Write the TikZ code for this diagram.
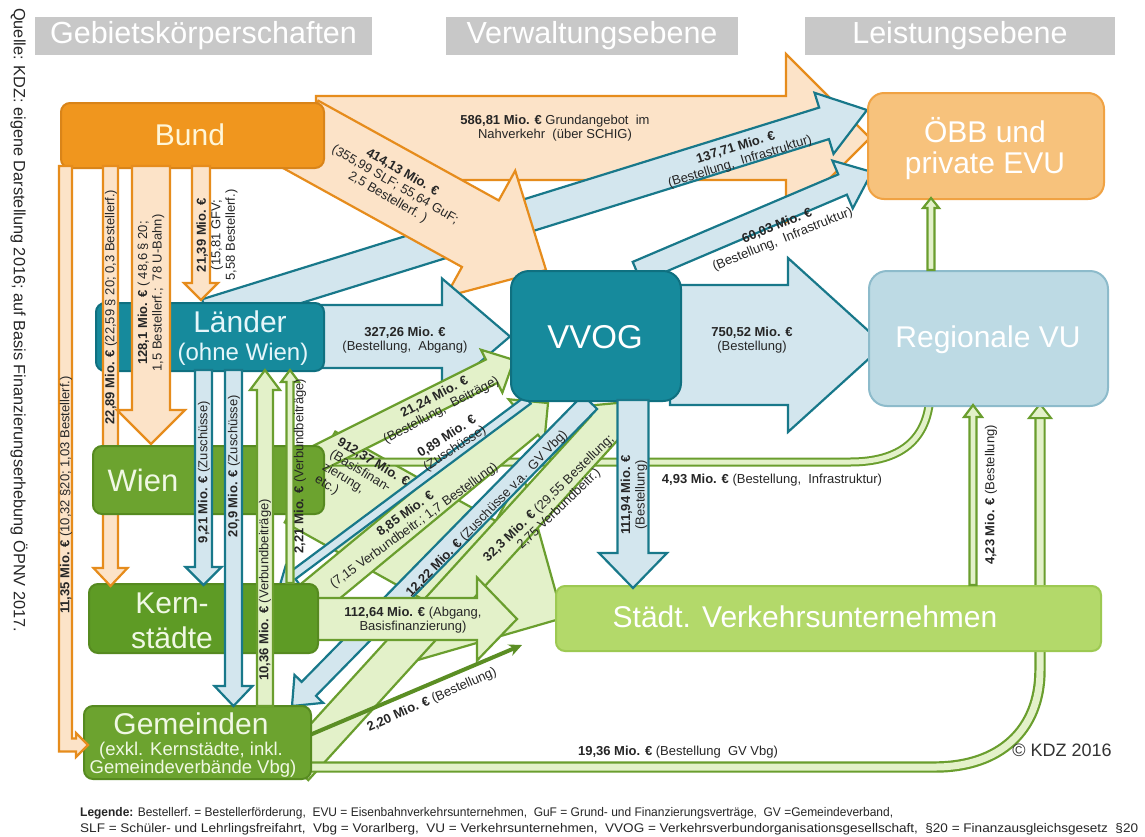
\documentclass[tikz,border=0pt]{standalone}
\usepackage{fontspec}
\setmainfont{Liberation Sans}
\usetikzlibrary{calc,arrows.meta}
\definecolor{hdrgray}{HTML}{C8C8C8}
\definecolor{orbox}{HTML}{F0961E}
\definecolor{orboxl}{HTML}{D98419}
\definecolor{orfill}{HTML}{FCE3C8}
\definecolor{orline}{HTML}{E68C1C}
\definecolor{tealbox}{HTML}{168A9C}
\definecolor{tealboxl}{HTML}{0F7080}
\definecolor{blfill}{HTML}{D3E6EE}
\definecolor{blline}{HTML}{18788A}
\definecolor{regfill}{HTML}{BDDAE4}
\definecolor{regline}{HTML}{8DBBCB}
\definecolor{oebbfill}{HTML}{F7C27C}
\definecolor{oebbline}{HTML}{F0A243}
\definecolor{grbox}{HTML}{6CA32F}
\definecolor{grboxd}{HTML}{5E9B25}
\definecolor{grboxl}{HTML}{568A20}
\definecolor{stfill}{HTML}{B3D96A}
\definecolor{stline}{HTML}{9DC952}
\definecolor{grfill}{HTML}{E3F1C9}
\definecolor{grline}{HTML}{6A9E2E}
\definecolor{gdark}{HTML}{5B8E24}
\definecolor{lbltext}{HTML}{262626}
\definecolor{cream}{HTML}{FFF6D8}
\definecolor{paleteal}{HTML}{E6F6FA}
\definecolor{palegreen}{HTML}{F0F8E4}
\newcommand\lf{\fontsize{13}{14.5}\selectfont}
\newsavebox\legone
\newsavebox\legtwo
% block arrow: style, tail, tip, shaft half width, head half width, head length
\newcommand\blockarrow[6]{%
  \coordinate (baT) at (#2);
  \coordinate (baP) at (#3);
  \coordinate (baH) at ($(baP)!#6pt!(baT)$);
  \draw[#1] ($(baT)!#4pt!90:(baP)$) -- ($(baH)!#4pt!90:(baP)$) -- ($(baH)!#5pt!90:(baP)$)
    -- (baP) -- ($(baH)!#5pt!-90:(baP)$) -- ($(baH)!#4pt!-90:(baP)$)
    -- ($(baT)!#4pt!-90:(baP)$) -- cycle;}
\tikzset{
  orarrow/.style={fill=orfill, draw=orline, line width=2.2pt},
  blarrow/.style={fill=blfill, draw=blline, line width=2.2pt},
  grarrow/.style={fill=grfill, draw=grline, line width=2.2pt},
  dbl/.style={draw=grline, line width=2pt, double=grfill, double distance=5pt},
  dblw/.style={draw=grline, line width=2.2pt, double=grfill, double distance=7pt},
  bx/.style={rounded corners=9pt, line width=2pt, inner sep=0pt, anchor=north west},
  hdr/.style={fill=hdrgray, text=white, font=\fontsize{30.5}{32}\selectfont, inner sep=0pt},
  lbl/.style={font=\lf, text=lbltext, align=center, inner sep=0pt},
  btxt/.style={inner sep=0pt, font=\fontsize{30}{32}\selectfont},
}
\begin{document}
\begin{tikzpicture}[x=1pt,y=-1pt]
\useasboundingbox (0,0) rectangle (1145,836);
\fill[white] (0,0) rectangle (1145,836);
% headers
\node[hdr, minimum width=337pt, minimum height=38pt] (h1) at (203.5,36) {Gebietskörperschaften};
\node[hdr, minimum width=292pt, minimum height=38pt] (h2) at (592,36) {Verwaltungsebene};
\node[hdr, minimum width=310pt, minimum height=38pt] (h3) at (960,36) {Leistungsebene};
\node[anchor=west, rotate=-90, inner sep=0pt, font=\fontsize{16.3}{18}\selectfont, text=black!85] (quelle) at (19,8) {Quelle: KDZ: eigene Darstellung 2016; auf Basis Finanzierungserhebung ÖPNV 2017.};
% big flows
\blockarrow{orarrow}{316,138}{870,138}{42}{84}{84}
\blockarrow{blarrow}{207,315}{867,110}{16.5}{32}{45}
\blockarrow{blarrow}{637,272}{872,172}{11}{26}{32}
\blockarrow{orarrow}{300,134}{546,270}{38}{72}{75}
\blockarrow{blarrow}{670,345}{884,345}{60}{87}{96}
\blockarrow{blarrow}{315,336.5}{510,336.5}{31.5}{58}{68}
\blockarrow{grarrow}{310,477}{563,618}{52}{107}{106}
\draw[dbl] (318,462) -- (850,462) .. controls (900,462) and (928,440) .. (930,395);
\blockarrow{grarrow}{310,462}{514,360}{13}{24}{25}
\blockarrow{grarrow}{300,608}{548,403}{18}{28}{28}
\blockarrow{grarrow}{295,768}{628,402}{18}{32}{35}
\blockarrow{blarrow}{528,400}{280,585}{4.5}{12}{16}
\blockarrow{blarrow}{590,402}{292,706}{10}{20}{24}
\blockarrow{grarrow}{312,619}{517,619}{21}{41.5}{40}
\draw[line width=4pt, draw=gdark, -{Stealth[length=13pt,width=12pt]}] (305,737) -- (522,645);
\draw[dblw] (305,767) -- (935,767) .. controls (1000,767) and (1040,730) .. (1040,670) -- (1040,416);
\filldraw[fill=grfill, draw=grline, line width=2pt] (1029,418) -- (1040,404) -- (1051,418) -- cycle;
% boxes
\node[bx, fill=orbox, draw=orboxl, minimum width=263pt, minimum height=65pt] (bund) at (60,102) {};
\node[bx, fill=tealbox, draw=tealboxl, minimum width=228pt, minimum height=68pt] (laender) at (95,302) {};
\node[bx, fill=grboxd, draw=grboxl, minimum width=229pt, minimum height=69pt] (kern) at (88,583) {};
\node[bx, fill=grbox, draw=grboxl, minimum width=227pt, minimum height=73pt] (gem) at (83,705) {};
\node[bx, rounded corners=18pt, fill=tealbox, draw=tealboxl, minimum width=170pt, minimum height=130pt] (vvog) at (510,270) {};
\node[bx, rounded corners=16pt, fill=oebbfill, draw=oebbline, minimum width=236pt, minimum height=106pt] (oebb) at (867,92) {};
\node[bx, rounded corners=18pt, fill=regfill, draw=regline, minimum width=239pt, minimum height=135pt] (reg) at (868,270) {};
\node[bx, fill=stfill, draw=stline, minimum width=545pt, minimum height=65pt] (staedt) at (555,585) {};
% flows from Bund
\draw[orarrow] (59,166) -- (59,751.5) -- (76,751.5) -- (76,757) -- (88,745) -- (76,733) -- (76,738.5) -- (72,738.5) -- (72,166) -- cycle;
\blockarrow{orarrow}{110.5,166}{110.5,586}{7.5}{17}{18}
\blockarrow{orarrow}{151,166}{151,444}{19}{34}{34}
\blockarrow{orarrow}{201,166}{201,300}{9}{17}{17}
\node[bx, fill=grbox, draw=grboxl, minimum width=231pt, minimum height=68pt] (wien) at (92,445) {};
% vertical flows
\blockarrow{blarrow}{203.5,370}{203.5,585}{8.5}{18}{18}
\blockarrow{blarrow}{233.5,370}{233.5,706}{8.5}{19}{20}
\blockarrow{grarrow}{265,706}{265,370}{8}{15}{20}
\blockarrow{grarrow}{290,583}{290,370}{3.5}{9}{12}
\blockarrow{blarrow}{633,400}{633,588}{15.5}{34}{35}
\blockarrow{grarrow}{973,585}{973,405}{3.5}{9}{12}
\blockarrow{grarrow}{931,270}{931,198}{3.5}{8}{10}
% box texts
\node[btxt, text=cream] (tbund) at (190,135) {Bund};
\node[btxt, text=paleteal] (tlae) at (240,322) {Länder};
\node[inner sep=0pt, font=\fontsize{24}{26}\selectfont, text=paleteal] (tlae2) at (243,354) {(ohne Wien)};
\node[btxt, text=palegreen, font=\fontsize{31}{33}\selectfont] (twien) at (143,480) {Wien};
\node[btxt, text=palegreen] (tkern1) at (172,603) {Kern-};
\node[btxt, text=palegreen] (tkern2) at (172,638) {städte};
\node[btxt, text=palegreen] (tgem1) at (191,724) {Gemeinden};
\node[inner sep=0pt, font=\fontsize{18.5}{20}\selectfont, text=palegreen] (tgem2) at (191,751) {(exkl. Kernstädte, inkl.};
\node[inner sep=0pt, font=\fontsize{18.5}{20}\selectfont, text=palegreen] (tgem3) at (193,769) {Gemeindeverbände Vbg)};
\node[btxt, text=white, font=\fontsize{33}{35}\selectfont] (tvvog) at (595,337) {VVOG};
\node[btxt, text=white] (toebb1) at (985,130) {ÖBB und};
\node[btxt, text=white] (toebb2) at (985,166) {private EVU};
\node[btxt, text=white] (treg) at (988,340) {Regionale VU};
\node[btxt, text=white] (tst) at (805,617) {Städt. Verkehrsunternehmen};
% flow labels
\node[lbl] (t586) at (555,128) {\textbf{586,81 Mio. €} Grundangebot\ \ im\\Nahverkehr\ \ (über SCHIG)};
\node[lbl, rotate=-30] (t414) at (395,185) {\textbf{414,13 Mio. €}\\(355,99 SLF; 55,64 GuF;\\2,5 Bestellerf. )};
\node[lbl, rotate=17] (t137) at (738,155) {\textbf{137,71 Mio. €}\\(Bestellung,\ \ Infrastruktur)};
\node[lbl, rotate=22] (t6003) at (780,233) {\textbf{60,03 Mio. €}\\(Bestellung,\ \ Infrastruktur)};
\node[lbl] (t327) at (405,340) {\textbf{327,26 Mio. €}\\(Bestellung,\ \ Abgang)};
\node[lbl] (t750) at (752,340) {\textbf{750,52 Mio. €}\\(Bestellung)};
\node[lbl, rotate=90] (t111) at (634,495) {\textbf{111,94 Mio. €}\\(Bestellung)};
\node[lbl, rotate=28] (t2124) at (438,404) {\textbf{21,24 Mio. €}\\(Bestellung,\ \ Beiträge)};
\node[lbl, rotate=33] (t089) at (451,443) {\textbf{0,89 Mio. €}\\(Zuschüsse)};
\node[lbl, rotate=-31, align=left] (t912) at (362,481) {\textbf{912,37 Mio. €}\\(Basisfinan-\\zierung,\\etc.)};
\node[lbl, rotate=36] (t885) at (410,520) {\textbf{8,85 Mio. €}\\(7,15 Verbundbeitr.; 1,7 Bestellung)};
\node[lbl, rotate=46] (t1222) at (487,514) {\textbf{12,22 Mio. €} (Zuschüsse v.a.\ \ GV Vbg)};
\node[lbl, rotate=44] (t323) at (554,504) {\textbf{32,3 Mio. €} (29,55 Bestellung;\\2,75 Verbundbeitr.)};
\node[lbl] (t11264) at (413,620) {\textbf{112,64 Mio. €} (Abgang,\\Basisfinanzierung)};
\node[lbl, rotate=24] (t220) at (432,700) {\textbf{2,20 Mio. €} (Bestellung)};
\node[lbl] (t1936) at (678,752) {\textbf{19,36 Mio. €} (Bestellung\ \ GV Vbg)};
\node[lbl] (t493) at (772,480) {\textbf{4,93 Mio. €} (Bestellung,\ \ Infrastruktur)};
\node[lbl, rotate=90] (t423) at (991,495) {\textbf{4,23 Mio. €} (Bestellung)};
\node[lbl, rotate=90] (t921) at (204,472) {\textbf{9,21 Mio. €} (Zuschüsse)};
\node[lbl, rotate=90] (t209) at (234,466) {\textbf{20,9 Mio. €} (Zuschüsse)};
\node[lbl, rotate=90] (t221) at (300,466) {\textbf{2,21 Mio. €} (Verbundbeiträge)};
\node[lbl, rotate=90] (t1036) at (265,590) {\textbf{10,36 Mio. €} (Verbundbeiträge)};
\node[lbl, rotate=90] (t2289) at (111,307) {\textbf{22,89 Mio. €} (22,59 § 20; 0,3 Bestellerf.)};
\node[lbl, rotate=90] (t1281) at (151,293) {\textbf{128,1 Mio. €} ( 48,6 § 20;\\1,5 Bestellerf.;\ \ 78 U-Bahn)};
\node[lbl, rotate=90] (t2139) at (217,235) {\textbf{21,39 Mio. €}\\(15,81 GFV;\\5,58 Bestellerf.)};
\node[lbl, rotate=90] (t1135) at (66,495) {\textbf{11,35 Mio. €} (10,32 §20; 1,03 Bestellerf.)};
\node[inner sep=0pt, font=\fontsize{18}{20}\selectfont, text=black!80] (kdz) at (1062,750) {© KDZ 2016};
% legend
\node[anchor=west, inner sep=0pt, text=lbltext] (leg2) at (80,829) {\sbox\legtwo{\fontsize{12.5}{14}\selectfont SLF = Schüler- und Lehrlingsfreifahrt,\ \ Vbg = Vorarlberg,\ \ VU = Verkehrsunternehmen,\ \ VVOG = Verkehrsverbundorganisationsgesellschaft,\ \ §20 = Finanzausgleichsgesetz\ \ §20}\pgfmathsetmacro\legsx{1058/\wd\legtwo}\scalebox{\legsx}[1]{\usebox\legtwo}};
\node[anchor=west, inner sep=0pt, text=lbltext] (leg1) at (80,813) {\sbox\legone{\fontsize{12.5}{14}\selectfont\textbf{Legende:} Bestellerf.\ = Bestellerförderung,\ \ EVU = Eisenbahnverkehrsunternehmen,\ \ GuF = Grund- und Finanzierungsverträge,\ \ GV =Gemeindeverband,}\pgfmathsetmacro\legsxa{813/\wd\legone}\scalebox{\legsxa}[1]{\usebox\legone}};
\end{tikzpicture}
\end{document}
